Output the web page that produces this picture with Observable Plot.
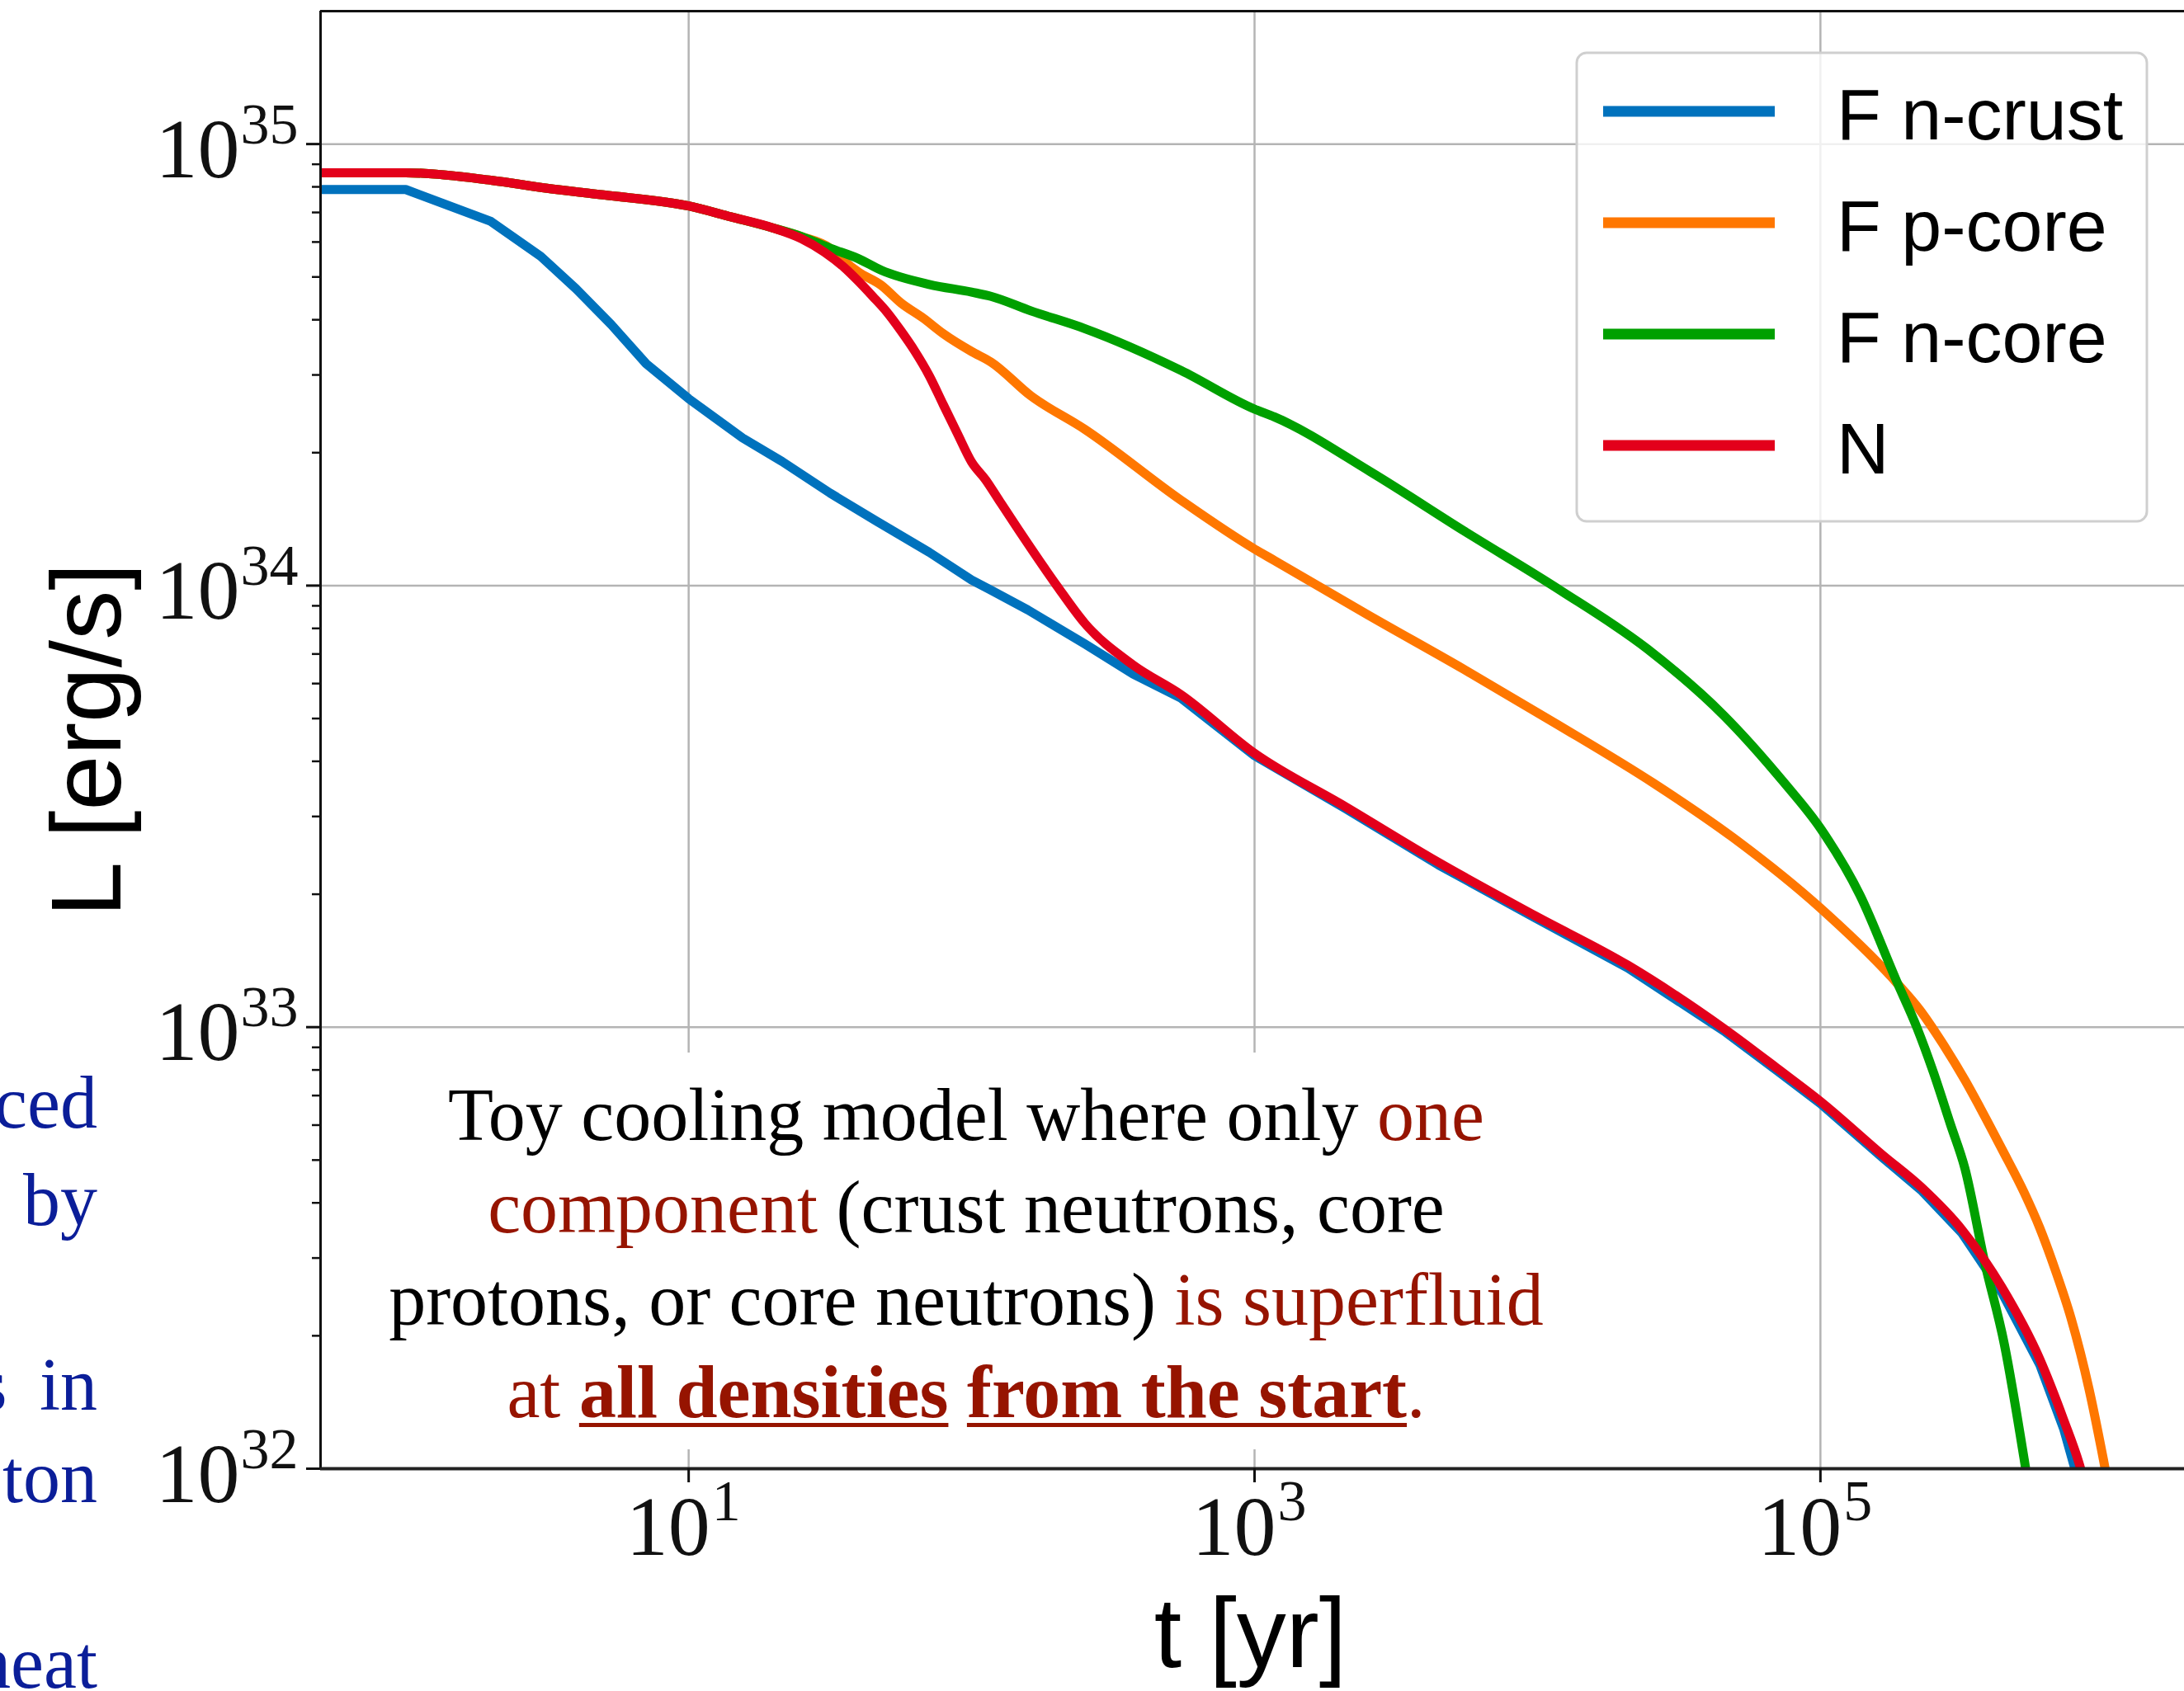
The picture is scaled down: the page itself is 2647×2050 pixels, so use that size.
<!DOCTYPE html>
<html>
<head>
<meta charset="utf-8">
<script src="https://cdn.jsdelivr.net/npm/d3@7"></script>
<script src="https://cdn.jsdelivr.net/npm/@observablehq/plot@0.6"></script>
<style>
  html, body { margin: 0; padding: 0; background: #fff; overflow: hidden; }
  #fig { position: relative; width: 2647px; height: 2050px; overflow: hidden; }
  #fig svg { position: absolute; left: 0; top: 0; }
  .note {
    position: absolute; left: 395px; top: 1276px; width: 1552px; height: 481px;
    box-sizing: border-box; padding-top: 20px; background: #fff;
    font-family: "Liberation Serif", "Times New Roman", serif; font-size: 90px;
    line-height: 112px; text-align: center; color: #000; white-space: nowrap;
  }
  .hl { color: #961400; }
  .note u { text-decoration-thickness: 5px; text-underline-offset: 7px; }
  .side {
    position: absolute; left: -400px; width: 518px; text-align: right;
    font-family: "Liberation Serif", "Times New Roman", serif; font-size: 90px;
    line-height: 112px; color: #0b1e99; white-space: nowrap;
  }
</style>
</head>
<body>
<div id="fig">
  <div class="side" style="top:1281px">ced</div>
  <div class="side" style="top:1399px">by</div>
  <div class="side" style="top:1623px; word-spacing:17px">s in</div>
  <div class="side" style="top:1735px">ton</div>
  <div class="side" style="top:1960px">heat</div>
  <div class="note">
    <div>Toy cooling model where only <span class="hl">one</span></div>
    <div><span class="hl">component</span> (crust neutrons, core</div>
    <div>protons, or core neutrons) <span class="hl">is superfluid</span></div>
    <div class="hl">at <b><u>all densities</u></b> <b><u>from the start</u></b>.</div>
  </div>
</div>
<script>
// Luminosity L [erg/s] versus age t [yr] for four toy cooling runs.

// F n-crust: only crust neutrons superfluid
const tNCrust = [0.5, 1, 2, 3, 4, 5.33, 7.08, 10, 15.5, 21.4, 31.6, 46.1, 70.8, 100, 117, 158, 251, 372, 550,
  1000, 2090, 4470, 9770, 20900, 45700, 70800, 1.0e5, 1.66e5, 2.29e5, 3.16e5, 4.37e5, 5.96e5, 7.24e5, 8.0e5];
const LNCrust = [7.89e34, 7.89e34, 6.68e34, 5.57e34, 4.70e34, 3.90e34, 3.18e34, 2.65e34, 2.16e34, 1.91e34,
  1.62e34, 1.40e34, 1.19e34, 1.03e34, 9.77e33, 8.81e33, 7.38e33, 6.31e33, 5.56e33, 4.12e33, 3.13e33, 2.33e33,
  1.77e33, 1.36e33, 9.79e32, 7.94e32, 6.71e32, 5.06e32, 4.25e32, 3.42e32, 2.51e32, 1.72e32, 1.23e32, 9.8e31];

// F p-core: only core protons superfluid
const tPCore = [0.5, 1, 2, 3.16, 5, 10, 14.1, 19.8, 25.1, 31.6, 35.5, 39.8, 47.9, 56.2, 67.6, 79.4, 100, 117, 162,
  251, 550, 1000, 1175, 2510, 5500, 11750, 25700, 49000, 1.0e5, 1.86e5, 2.24e5, 2.69e5, 3.24e5, 3.72e5, 4.37e5,
  5.25e5, 5.96e5, 6.76e5, 7.69e5, 8.91e5, 1.0e6, 1.05e6];
const LPCore = [8.61e34, 8.61e34, 8.28e34, 7.94e34, 7.67e34, 7.24e34, 6.84e34, 6.46e34, 6.17e34, 5.81e34, 5.43e34,
  5.13e34, 4.79e34, 4.37e34, 4.03e34, 3.72e34, 3.39e34, 3.21e34, 2.69e34, 2.26e34, 1.56e34, 1.21e34, 1.14e34,
  8.59e33, 6.46e33, 4.85e33, 3.57e33, 2.69e33, 1.86e33, 1.26e33, 1.096e33, 9.23e32, 7.59e32, 6.46e32, 5.31e32,
  4.22e32, 3.51e32, 2.82e32, 2.19e32, 1.51e32, 1.05e32, 8.9e31];

// F n-core: only core neutrons superfluid
const tNCore = [0.5, 1, 2, 3.16, 5, 10, 14.1, 19.8, 25.1, 31.6, 39.8, 47.9, 70.8, 100, 117, 162, 251, 550, 1000,
  1175, 2570, 5500, 12000, 24500, 45700, 74100, 1.0e5, 1.38e5, 1.86e5, 2.19e5, 2.51e5, 2.88e5, 3.24e5, 3.8e5,
  4.47e5, 5.25e5, 5.5e5];
const LNCore = [8.61e34, 8.61e34, 8.28e34, 7.94e34, 7.67e34, 7.24e34, 6.84e34, 6.46e34, 6.17e34, 5.81e34, 5.50e34,
  5.18e34, 4.81e34, 4.62e34, 4.52e34, 4.19e34, 3.82e34, 3.07e34, 2.51e34, 2.41e34, 1.81e34, 1.33e34, 9.77e33,
  7.18e33, 5.07e33, 3.59e33, 2.82e33, 1.99e33, 1.27e33, 1.0e33, 7.89e32, 6.03e32, 4.79e32, 2.95e32, 1.91e32,
  1.05e32, 8.7e31];

// N: normal (no superfluidity)
const tNormal = [0.5, 1, 2, 3.16, 5, 10, 14.1, 19.8, 25.1, 30.2, 35.5, 39.8, 44.7, 50.1, 56.2, 63.1, 70.8, 79.4,
  89.1, 100, 112, 126, 147, 200, 251, 372, 550, 1000, 2090, 4470, 9770, 20900, 45700, 70800, 1.0e5, 1.66e5,
  2.29e5, 3.16e5, 4.37e5, 5.96e5, 7.24e5, 8.2e5, 8.9e5];
const LNormal = [8.61e34, 8.61e34, 8.28e34, 7.94e34, 7.67e34, 7.24e34, 6.84e34, 6.46e34, 6.10e34, 5.69e34, 5.25e34,
  4.89e34, 4.52e34, 4.17e34, 3.78e34, 3.39e34, 2.99e34, 2.57e34, 2.21e34, 1.905e34, 1.738e34, 1.549e34, 1.334e34,
  1.00e34, 8.22e33, 6.61e33, 5.66e33, 4.17e33, 3.16e33, 2.36e33, 1.79e33, 1.38e33, 9.91e32, 8.04e32, 6.79e32,
  5.13e32, 4.32e32, 3.48e32, 2.58e32, 1.77e32, 1.29e32, 1.03e32, 8.5e31];

const seriesNames = ["F n-crust", "F p-core", "F n-core", "N"];
const seriesColors = ["#0072bd", "#ff7700", "#00a000", "#e3001b"];
const seriesData = [[tNCrust, LNCrust], [tPCore, LPCore], [tNCore, LNCore], [tNormal, LNormal]];

// Axes
const xDomain = [0.5, 2e6];
const yDomain = [1e32, 2e35];
const xTicks = [1e1, 1e3, 1e5];
const xTickExps = ["1", "3", "5"];
const yTicks = [1e32, 1e33, 1e34, 1e35];
const yTickExps = ["32", "33", "34", "35"];
const yMinorTicks = [2e32, 3e32, 4e32, 5e32, 6e32, 7e32, 8e32, 9e32,
  2e33, 3e33, 4e33, 5e33, 6e33, 7e33, 8e33, 9e33,
  2e34, 3e34, 4e34, 5e34, 6e34, 7e34, 8e34, 9e34];

const rows = [];
seriesData.forEach(([ts, Ls], k) => ts.forEach((t, i) => rows.push({series: seriesNames[k], t, L: Ls[i]})));

const serif = "'Liberation Serif', 'Times New Roman', serif";
const sans = "'Liberation Sans', Arial, sans-serif";
const grid = {stroke: "#b4b4b4", strokeOpacity: 1, strokeWidth: 2.5};
const lineStyle = {x: "t", y: "L", z: "series", stroke: "series", strokeWidth: 11, strokeLinejoin: "round", clip: true};

const chart = Plot.plot({
  width: 2647,
  height: 2050,
  marginLeft: 388,
  marginRight: -5,
  marginTop: 13,
  marginBottom: 270,
  x: {type: "log", domain: xDomain, axis: null},
  y: {type: "log", domain: yDomain, axis: null},
  color: {domain: seriesNames, range: seriesColors},
  style: {background: "transparent", overflow: "hidden"},
  marks: [
    Plot.gridX(xTicks, grid),
    Plot.gridY(yTicks, grid),
    // crust run keeps its sharp break at 1 yr; the others are drawn smooth
    Plot.line(rows, {...lineStyle, filter: d => d.series === seriesNames[0], curve: "linear"}),
    Plot.line(rows, {...lineStyle, filter: d => d.series !== seriesNames[0], curve: "monotone-x"}),
    Plot.ruleX([xDomain[0]], {stroke: "#111", strokeWidth: 3}),
    Plot.ruleY([yDomain[0]], {stroke: "#222", strokeWidth: 4}),
    Plot.ruleY([yDomain[1]], {stroke: "#111", strokeWidth: 3}),
    Plot.axisY(yTicks, {tickSize: 17, strokeWidth: 3, stroke: "#111", tickFormat: () => "", label: null}),
    Plot.axisY(yMinorTicks, {tickSize: 10, strokeWidth: 2.5, stroke: "#111", tickFormat: () => "", label: null}),
    Plot.axisX(xTicks, {tickSize: 17, strokeWidth: 3, stroke: "#111", tickFormat: () => "", label: null}),
    // y tick labels: 10 with a raised exponent
    Plot.text(yTicks, {x: xDomain[0], y: d => d, text: () => "10", textAnchor: "end", lineAnchor: "bottom",
      dx: -98, dy: 40, fontSize: 102, fontFamily: serif, fill: "#111"}),
    Plot.text(yTicks, {x: xDomain[0], y: d => d, text: (d, i) => yTickExps[i], textAnchor: "start",
      lineAnchor: "bottom", dx: -97, dy: -1, fontSize: 70, fontFamily: serif, fill: "#111"}),
    // x tick labels
    Plot.text(xTicks, {x: d => d, y: yDomain[0], text: () => "10", textAnchor: "end", lineAnchor: "bottom",
      dx: 26, dy: 104, fontSize: 102, fontFamily: serif, fill: "#111"}),
    Plot.text(xTicks, {x: d => d, y: yDomain[0], text: (d, i) => xTickExps[i], textAnchor: "start",
      lineAnchor: "bottom", dx: 28, dy: 62, fontSize: 70, fontFamily: serif, fill: "#111"}),
    // axis titles
    Plot.text(["t [yr]"], {frameAnchor: "bottom", text: d => d, textAnchor: "middle", lineAnchor: "bottom",
      dx: -5, dy: 240, fontSize: 120, fontFamily: sans, fill: "#000"}),
    Plot.text(["L [erg/s]"], {frameAnchor: "left", text: d => d, rotate: -90, textAnchor: "middle",
      lineAnchor: "bottom", dx: -243, fontSize: 120, fontFamily: sans, fill: "#000"})
  ]
});

// Legend box in the upper right of the axes
const svg = d3.select(chart);
const lg = svg.append("g").attr("class", "legend");
lg.append("rect")
  .attr("x", 1911).attr("y", 64).attr("width", 691).attr("height", 568).attr("rx", 12)
  .attr("fill", "#fff").attr("fill-opacity", 0.8).attr("stroke", "#cfcfcf").attr("stroke-width", 3);
seriesNames.forEach((name, i) => {
  const cy = 135 + i * 135;
  lg.append("line")
    .attr("x1", 1943).attr("x2", 2151).attr("y1", cy).attr("y2", cy)
    .attr("stroke", seriesColors[i]).attr("stroke-width", 13);
  lg.append("text")
    .attr("x", 2226).attr("y", cy + 34)
    .attr("text-anchor", "start")
    .attr("font-family", sans).attr("font-size", 88).attr("fill", "#000")
    .text(name);
});

document.getElementById("fig").prepend(chart);
</script>
</body>
</html>
